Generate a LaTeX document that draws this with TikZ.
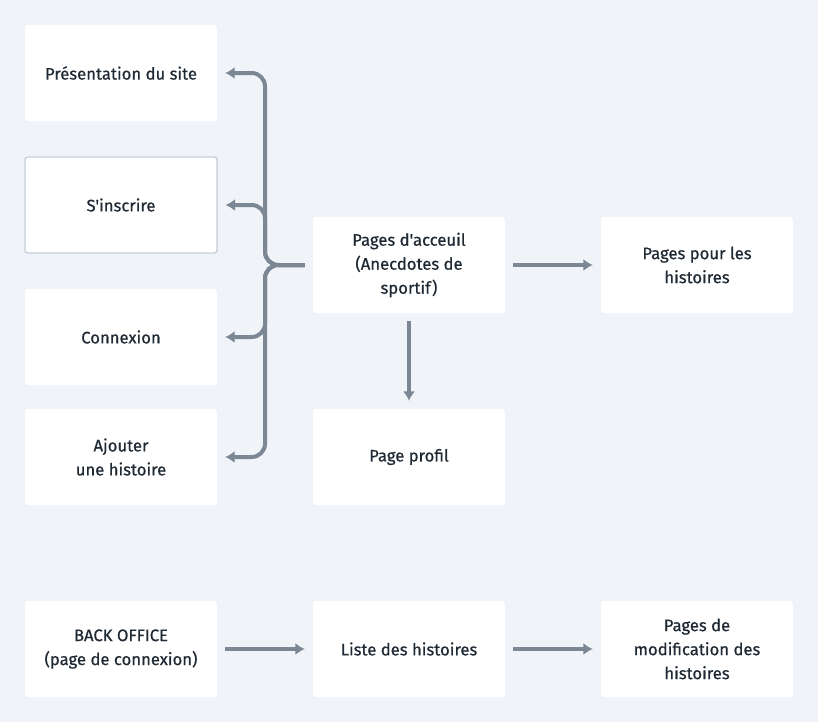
\documentclass[tikz,border=0pt]{standalone}
\usepackage{fontspec}
\setmainfont{Fira Sans}[Ligatures=TeXOff,UprightFeatures={FakeBold=0.6}]
\usetikzlibrary{arrows.meta,calc,positioning}
\definecolor{Page}{HTML}{F0F3F7}
\definecolor{Ink}{HTML}{1F2933}
\definecolor{Link}{HTML}{7B8794}
\definecolor{Edge}{HTML}{C5CFD9}

\tikzset{
  card/.style={fill=white,rounded corners=2pt,minimum width=144pt,minimum height=72pt,
    align=center,text=Ink,font=\fontsize{12.5}{18}\selectfont,inner sep=0pt},
  link/.style={draw=Link,line width=3pt,-{Latex[length=7pt,width=9pt]},
    shorten <=6pt,shorten >=6pt}
}

\begin{document}
\begin{tikzpicture}[x=0.75pt,y=-0.75pt]
    \fill[Page] (0,0) rectangle (818,722);
    \useasboundingbox (0,0) rectangle (818,722);

    % left column
    \node[card] (pres) at (121,73) {Présentation du site};
    \node[card,draw=Edge,line width=1pt] (signup) at (121,205) {S'inscrire};
    \node[card] (login) at (121,337) {Connexion};
    \node[card] (add) at (121,457) {Ajouter\\une histoire};

    % middle and right
    \node[card] (home) at (409,265) {Pages d'acceuil\\(Anecdotes de\\sportif)};
    \node[card] (stories) at (697,265) {Pages pour les\\histoires};
    \node[card] (profile) at (409,457) {Page profil};

    % back office
    \node[card] (back) at (121,649) {BACK OFFICE\\(page de connexion)};
    \node[card] (list) at (409,649) {Liste des histoires};
    \node[card] (edit) at (697,649) {Pages de\\modification des\\histoires};

    \coordinate (fork) at (265,265);
    \foreach \t in {pres,signup,login,add}{
      \draw[link,rounded corners=10pt] (home.west) -- (fork) |- (\t.east);
    }

    \draw[link] (home) -- (stories);
    \draw[link] (home) -- (profile);
    \draw[link] (back) -- (list);
    \draw[link] (list) -- (edit);
  \end{tikzpicture}
\end{document}
